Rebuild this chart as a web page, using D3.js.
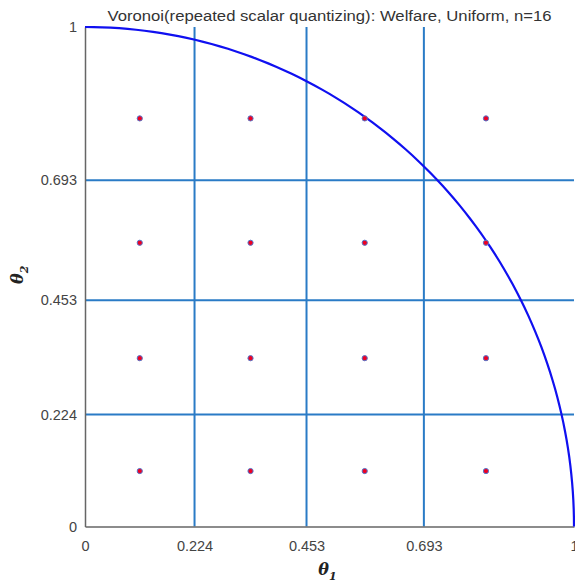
<!DOCTYPE html>
<html><head><meta charset="utf-8">
<script src="https://cdn.jsdelivr.net/npm/d3@7"></script>
<style>body{margin:0;background:#fff;} svg{display:block;}</style>
</head><body>
<script>
const titleText = "Voronoi(repeated scalar quantizing): Welfare, Uniform, n=16";
const tickValues = [0, 0.224, 0.453, 0.693, 1];
const tickLabels = ["0", "0.224", "0.453", "0.693", "1"];
const gridValues = [0.224, 0.453, 0.693];
const pointX = [0.112, 0.3385, 0.572, 0.82];
const pointY = [0.111, 0.337, 0.568, 0.817];
const circleRadius = 1;

const W = 575, H = 583;
const svg = d3.select("body").append("svg").attr("width", W).attr("height", H);
const x = d3.scaleLinear().domain([0, 1]).range([85, 574]);
const y = d3.scaleLinear().domain([0, 1]).range([526.5, 27]);

// grid lines
svg.append("g").selectAll("line.v").data(gridValues).join("line")
  .attr("x1", d => x(d)).attr("x2", d => x(d)).attr("y1", y(0)).attr("y2", y(1))
  .attr("stroke", "#2a7bc6").attr("stroke-width", 2);
svg.append("g").selectAll("line.h").data(gridValues).join("line")
  .attr("y1", d => y(d)).attr("y2", d => y(d)).attr("x1", x(0)).attr("x2", x(1))
  .attr("stroke", "#2a7bc6").attr("stroke-width", 2);

// axes
const xAxis = d3.axisBottom(x).tickValues(tickValues).tickFormat((d, i) => tickLabels[i]).tickSize(0).tickPadding(14);
const yAxis = d3.axisLeft(y).tickValues(tickValues).tickFormat((d, i) => tickLabels[i]).tickSize(0).tickPadding(8);
const gx = svg.append("g").attr("transform", `translate(0,${y(0)})`).call(xAxis);
const gy = svg.append("g").attr("transform", `translate(${x(0)},0)`).call(yAxis);
[gx, gy].forEach(g => {
  g.select(".domain").attr("stroke", "#666").attr("stroke-width", 1.5);
  g.selectAll("text").attr("font-family", "Liberation Sans, Arial, sans-serif").attr("font-size", 14.5).attr("fill", "#444");
});

// quarter circle
const angles = d3.range(0, 91).map(a => a * Math.PI / 180);
svg.append("path")
  .datum(angles)
  .attr("d", d3.line().x(a => x(circleRadius * Math.cos(a))).y(a => y(circleRadius * Math.sin(a))))
  .attr("fill", "none").attr("stroke", "#1010f0").attr("stroke-width", 2.2);

// points
const pts = [];
pointY.forEach(py => pointX.forEach(px => pts.push([px, py])));
svg.append("g").selectAll("circle").data(pts).join("circle")
  .attr("cx", d => x(d[0])).attr("cy", d => y(d[1])).attr("r", 2.6)
  .attr("fill", "#ee0022").attr("stroke", "#5577cc").attr("stroke-width", 1);

// title
svg.append("text").attr("x", (x(0) + x(1)) / 2).attr("y", 21).attr("text-anchor", "middle")
  .attr("font-family", "Liberation Sans, Arial, sans-serif").attr("font-size", 14).attr("fill", "#333")
  .attr("textLength", 444).attr("lengthAdjust", "spacingAndGlyphs")
  .text(titleText);

// axis labels
const xl = svg.append("text").attr("x", (x(0) + x(1)) / 2 - 2).attr("y", 575).attr("text-anchor", "middle")
  .attr("font-family", "DejaVu Serif, serif").attr("font-weight", "bold").attr("font-style", "italic")
  .attr("font-size", 16).attr("fill", "#222");
xl.append("tspan").text("θ");
xl.append("tspan").attr("font-size", 11).attr("dy", 5).text("1");
const yl = svg.append("text").attr("transform", `translate(23,${(y(0) + y(1)) / 2 - 2}) rotate(-90)`).attr("text-anchor", "middle")
  .attr("font-family", "DejaVu Serif, serif").attr("font-weight", "bold").attr("font-style", "italic")
  .attr("font-size", 16).attr("fill", "#222");
yl.append("tspan").text("θ");
yl.append("tspan").attr("font-size", 11).attr("dy", 5).text("2");
</script>
</body></html>
